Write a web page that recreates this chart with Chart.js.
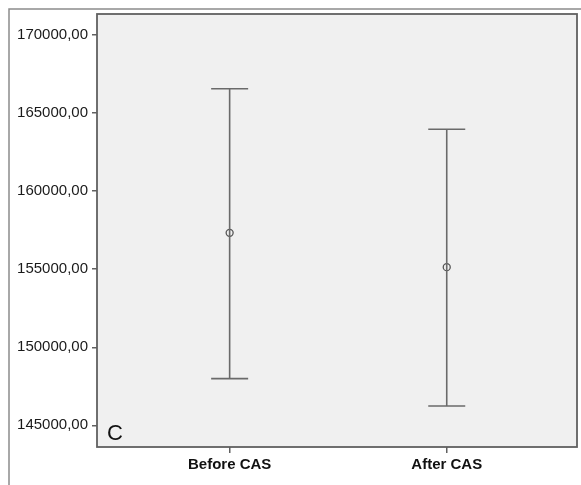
<!DOCTYPE html>
<html>
<head>
<meta charset="utf-8">
<script src="https://cdn.jsdelivr.net/npm/chart.js@4"></script>
<style>
  html, body { margin: 0; padding: 0; background: #fff; }
  #wrap { position: relative; width: 581px; height: 485px; }
</style>
</head>
<body>
<div id="wrap"><canvas id="chart" width="581" height="485"></canvas></div>
<script>
const categories = ['Before CAS', 'After CAS'];
const means = [157330, 155130];
const upper = [166560, 163970];
const lower = [147990, 146240];
const yTicks = [145000, 150000, 155000, 160000, 165000, 170000];

const lineColor = '#6a6a6a';

// one dataset per error bar: stem + caps (pointStyle 'line' = horizontal cap)
const barSets = categories.map((c, i) => ({
    label: c,
    data: [{ x: i, y: lower[i] }, { x: i, y: upper[i] }],
    showLine: true,
    borderColor: lineColor,
    borderWidth: 1.6,
    pointStyle: 'line',
    pointRadius: 18.5,
    pointBorderWidth: 1.6,
    pointBorderColor: lineColor
}));

const meanSet = {
    label: 'Mean',
    data: categories.map((c, i) => ({ x: i, y: means[i] })),
    showLine: false,
    pointStyle: 'circle',
    pointRadius: 3.5,
    pointBorderWidth: 1.3,
    pointBorderColor: '#555',
    pointBackgroundColor: 'rgba(0,0,0,0)'
};

const framePlugin = {
    id: 'frame',
    beforeDraw(chart) {
        const { ctx, chartArea: a } = chart;
        ctx.save();
        // outer frame (top + left only, cropped picture)
        ctx.strokeStyle = '#8c8c8c';
        ctx.lineWidth = 1.5;
        ctx.beginPath();
        ctx.moveTo(9, 485);
        ctx.lineTo(9, 9);
        ctx.lineTo(581, 9);
        ctx.stroke();
        ctx.fillStyle = '#f0f0f0';
        ctx.fillRect(a.left, a.top, a.right - a.left, a.bottom - a.top);
        ctx.restore();
    },
    afterDraw(chart) {
        const { ctx, chartArea: a } = chart;
        ctx.save();
        ctx.strokeStyle = '#606060';
        ctx.lineWidth = 1.8;
        ctx.strokeRect(a.left, a.top, a.right - a.left, a.bottom - a.top);
        ctx.fillStyle = '#111';
        ctx.font = '22px "Liberation Sans", Arial, sans-serif';
        ctx.textBaseline = 'alphabetic';
        ctx.fillText('C', a.left + 10, a.bottom - 7);
        ctx.restore();
    }
};

new Chart(document.getElementById('chart'), {
    type: 'scatter',
    data: { datasets: [...barSets, meanSet] },
    plugins: [framePlugin],
    options: {
        responsive: false,
        animation: false,
        devicePixelRatio: 1,
        layout: { autoPadding: false, padding: { left: 0, top: 14, right: 4, bottom: 0 } },
        plugins: {
            legend: { display: false },
            tooltip: { enabled: false }
        },
        scales: {
            x: {
                type: 'linear',
                min: -0.611,
                max: 1.6,
                afterBuildTicks: scale => {
                    scale.ticks = categories.map((c, i) => ({ value: i }));
                },
                afterFit: scale => {
                    scale.height = 38;
                    scale.paddingLeft = 0;
                    scale.paddingRight = 0;
                },
                grid: { drawOnChartArea: false, tickLength: 6, color: '#606060', lineWidth: 1.5 },
                border: { display: false },
                ticks: {
                    padding: 3,
                    color: '#111',
                    font: { family: '"Liberation Sans", Arial, sans-serif', size: 15, weight: 'bold' },
                    callback: v => categories[v]
                }
            },
            y: {
                min: 143610,
                max: 171350,
                afterBuildTicks: scale => {
                    scale.ticks = yTicks.map(v => ({ value: v }));
                },
                afterFit: scale => {
                    scale.width = 97;
                    scale.paddingTop = 0;
                    scale.paddingBottom = 0;
                },
                grid: { drawOnChartArea: false, tickLength: 5, color: '#606060', lineWidth: 1.5 },
                border: { display: false },
                ticks: {
                    padding: 4,
                    color: '#1a1a1a',
                    font: { family: '"Liberation Sans", Arial, sans-serif', size: 15 },
                    callback: v => v.toFixed(2).replace('.', ',')
                }
            }
        }
    }
});
</script>
</body>
</html>
